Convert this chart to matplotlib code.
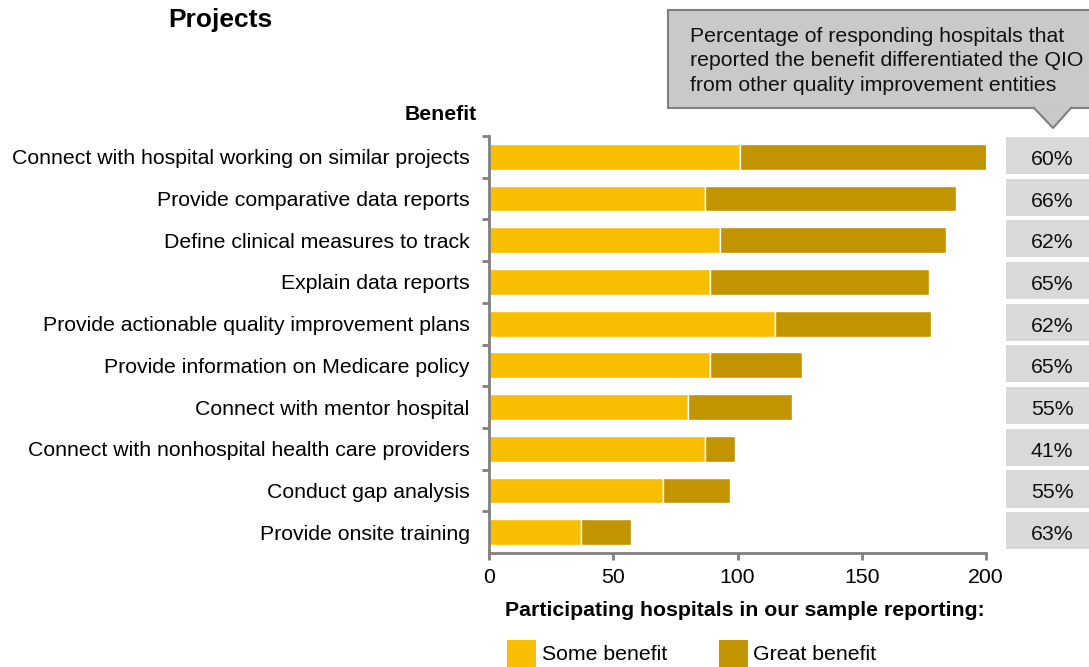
import numpy as np
import matplotlib
matplotlib.use("Agg")
import matplotlib.pyplot as plt
from matplotlib.patches import Rectangle, Polygon
from matplotlib.transforms import blended_transform_factory

plt.rcParams['font.family'] = ['Liberation Sans', 'DejaVu Sans']

# data (top to bottom)
benefits = [
    "Connect with hospital working on similar projects",
    "Provide comparative data reports",
    "Define clinical measures to track",
    "Explain data reports",
    "Provide actionable quality improvement plans",
    "Provide information on Medicare policy",
    "Connect with mentor hospital",
    "Connect with nonhospital health care providers",
    "Conduct gap analysis",
    "Provide onsite training",
]
some_benefit = [101, 87, 93, 89, 115, 89, 80, 87, 70, 37]
great_benefit = [100, 101, 91, 88, 63, 37, 42, 12, 27, 20]
pct_differentiated = ["60%", "66%", "62%", "65%", "62%", "65%", "55%", "41%", "55%", "63%"]

c_some = "#F8BF00"
c_great = "#C29400"
c_axis = "#808080"
fs = 15.3

W, H = 1089, 667
fig = plt.figure(figsize=(W / 100, H / 100), dpi=100)

def fx(px):
    return px / W

def fy(py):
    return 1 - py / H

ax = fig.add_axes([fx(489), fy(553), fx(986) - fx(489), fy(136) - fy(553)])

y = np.arange(len(benefits))
ax.barh(y, some_benefit, height=0.62, color=c_some, edgecolor="white", linewidth=1)
ax.barh(y, great_benefit, left=some_benefit, height=0.62, color=c_great,
        edgecolor="white", linewidth=1)

ax.set_xlim(0, 200)
ax.set_ylim(len(benefits) - 0.5, -0.5)
ax.set_xticks([0, 50, 100, 150, 200])
ax.set_yticks(y)
ax.set_yticklabels(benefits, fontsize=fs)
ax.tick_params(axis="y", length=0, pad=14)
ax.set_yticks(np.arange(-0.5, len(benefits) - 0.5, 1), minor=True)
ax.tick_params(axis="y", which="minor", length=5, width=2, color=c_axis, direction="out")
ax.tick_params(axis="x", length=5, width=2, color=c_axis, labelsize=fs, pad=6)

for s in ["top", "right"]:
    ax.spines[s].set_visible(False)
for s in ["left", "bottom"]:
    ax.spines[s].set_color(c_axis)
    ax.spines[s].set_linewidth(2)

# percentage boxes on the right
tr = blended_transform_factory(fig.transFigure, ax.transData)
for i, p in enumerate(pct_differentiated):
    ax.add_patch(Rectangle((fx(1006), i - 0.48), fx(1089) - fx(1006), 0.89,
                           transform=tr, facecolor="#D9D9D9", edgecolor="none",
                           clip_on=False))
    ax.text(fx(1052), i + 0.06, p, transform=tr, ha="center", va="center",
            fontsize=fs, color="#111111")

# callout box
fig.patches.append(Rectangle((fx(668), fy(108)), fx(1095) - fx(668), fy(10) - fy(108),
                             transform=fig.transFigure, facecolor="#C9C9C9",
                             edgecolor="#7F7F7F", linewidth=1.5))
fig.patches.append(Polygon([(fx(1034), fy(107)), (fx(1071), fy(107)), (fx(1053), fy(128))],
                           closed=True, transform=fig.transFigure, facecolor="#C9C9C9",
                           edgecolor="none"))
fig.lines.append(plt.Line2D([fx(1034), fx(1053), fx(1071)], [fy(108), fy(128), fy(108)],
                            transform=fig.transFigure, color="#7F7F7F", linewidth=1.5))
fig.text(fx(690), fy(61),
         "Percentage of responding hospitals that\n"
         "reported the benefit differentiated the QIO\n"
         "from other quality improvement entities",
         ha="left", va="center", fontsize=fs, linespacing=1.38, color="#111111")

fig.text(fx(168), fy(20), "Projects", ha="left", va="center", fontsize=19,
         fontweight="bold")
fig.text(fx(477), fy(115), "Benefit", ha="right", va="center", fontsize=fs,
         fontweight="bold")
fig.text(fx(745), fy(611), "Participating hospitals in our sample reporting:",
         ha="center", va="center", fontsize=fs, fontweight="bold")

# legend
fig.patches.append(Rectangle((fx(507), fy(667)), fx(536) - fx(507), fy(640) - fy(667),
                             transform=fig.transFigure, facecolor=c_some))
fig.text(fx(542), fy(655), "Some benefit", ha="left", va="center", fontsize=fs)
fig.patches.append(Rectangle((fx(719), fy(667)), fx(748) - fx(719), fy(640) - fy(667),
                             transform=fig.transFigure, facecolor=c_great))
fig.text(fx(753), fy(655), "Great benefit", ha="left", va="center", fontsize=fs)

fig.savefig("out.png", dpi=100)
